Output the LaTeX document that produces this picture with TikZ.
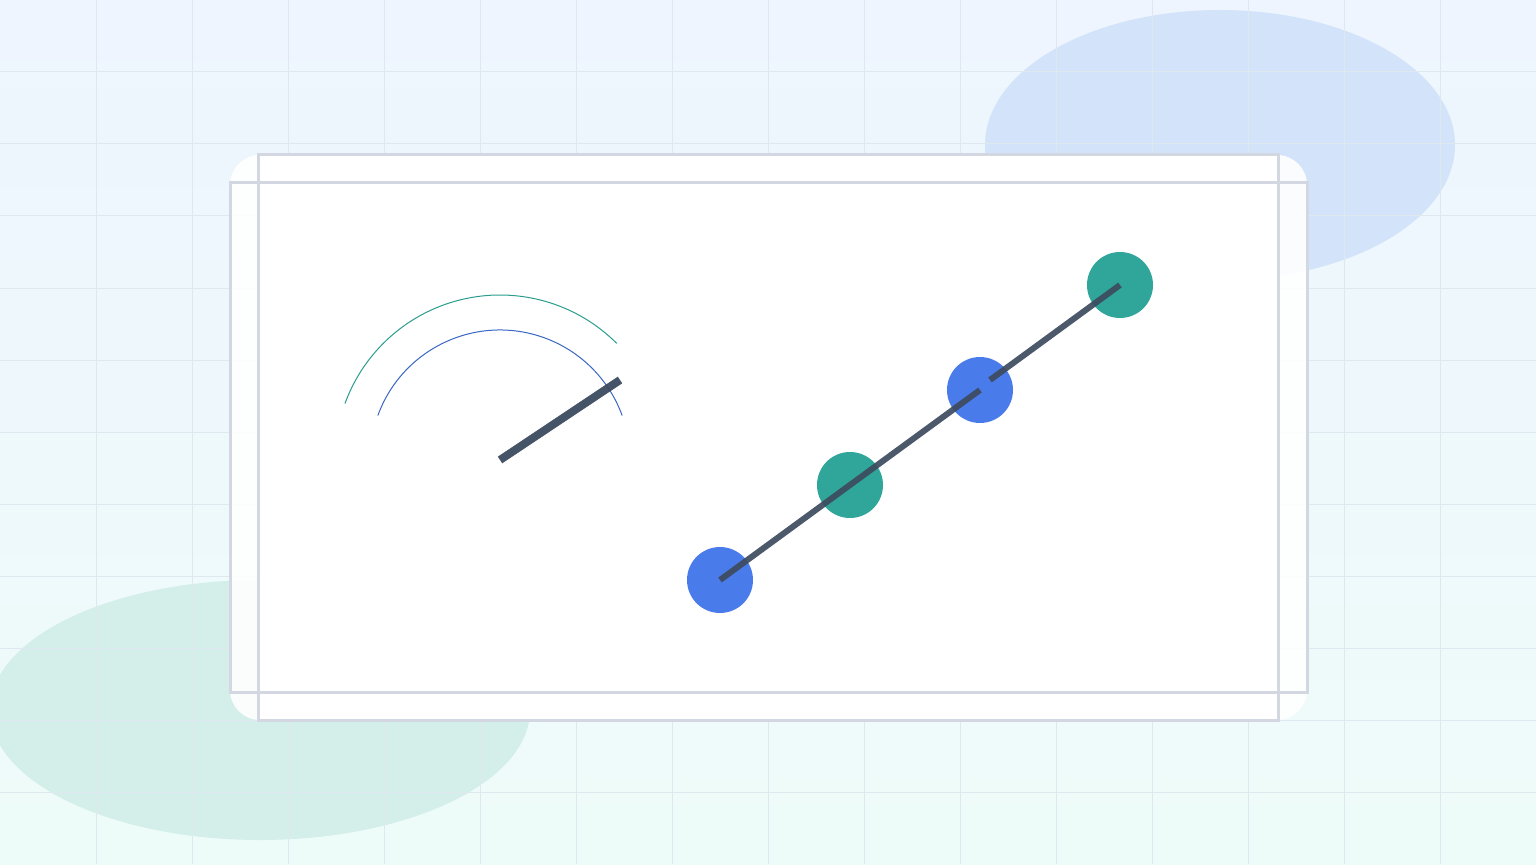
\documentclass[tikz,border=0pt]{standalone}
\usetikzlibrary{positioning}
\definecolor{bgtop}{HTML}{EEF5FE}
\definecolor{bgbot}{HTML}{EEFCF9}
\definecolor{gridc}{HTML}{DEE8EE}
\definecolor{blobblue}{HTML}{D3E3FA}
\definecolor{blobteal}{HTML}{D4EEEA}
\definecolor{framec}{HTML}{D2D7E1}
\definecolor{dotblue}{HTML}{4A7BEA}
\definecolor{dotteal}{HTML}{2FA699}
\definecolor{arcteal}{HTML}{2A9D8F}
\definecolor{arcblue}{HTML}{3A66C4}
\definecolor{slate}{HTML}{3D4B5F}
\begin{document}
\begin{tikzpicture}[x=0.5pt, y=0.5pt,
  dot/.style={circle, minimum size=33pt, inner sep=0pt, draw=none},
  bluedot/.style={dot, fill=dotblue},
  tealdot/.style={dot, fill=dotteal},
  frameline/.style={draw=framec, line width=1.5pt},
  link/.style={draw=slate, line width=3pt, opacity=0.92},
  needle/.style={draw=slate, line width=4pt, opacity=0.95}]
\useasboundingbox (0,0) rectangle (1536,864);
% background
\shade [top color=bgtop, bottom color=bgbot] (0,0) rectangle (1536,864);
\fill [blobblue] (1220,719) ellipse [x radius=235, y radius=135];
\fill [blobteal] (260,154) ellipse [x radius=270, y radius=130];
\foreach \x in {96,192,...,1440}
  \draw [gridc, line width=0.5pt] (\x,0) -- (\x,864);
\foreach \y in {72,144,...,792}
  \draw [gridc, line width=0.5pt] (0,\y) -- (1536,\y);
% card
\fill [white, opacity=0.9, rounded corners=15pt] (230,144) rectangle (1307,709);
\fill [white] (258,144) rectangle (1278,709);
\draw [frameline] (258,144) rectangle (1278,709);
\draw [frameline] (230,172) rectangle (1307,681);
% gauge
\coordinate (gc) at (500,404);
\coordinate (tip) at (620,484);
\draw [arcteal, line width=0.5pt] ([shift={(160:165)}]gc) arc [start angle=160, end angle=45, radius=165];
\draw [arcblue, line width=0.5pt] ([shift={(160:130)}]gc) arc [start angle=160, end angle=20, radius=130];
\draw [needle] (gc) -- (tip);
% chain
\node [bluedot] (n1) at (720,284) {};
\node [tealdot] (n2) at (850,379) {};
\node [bluedot] (n3) at (980,474) {};
\node [tealdot] (n4) at (1120,579) {};
\coordinate (s2) at (990,484);
\draw [link] (n1.center) -- (n3.center);
\draw [link] (s2) -- (n4.center);
\end{tikzpicture}
\end{document}
